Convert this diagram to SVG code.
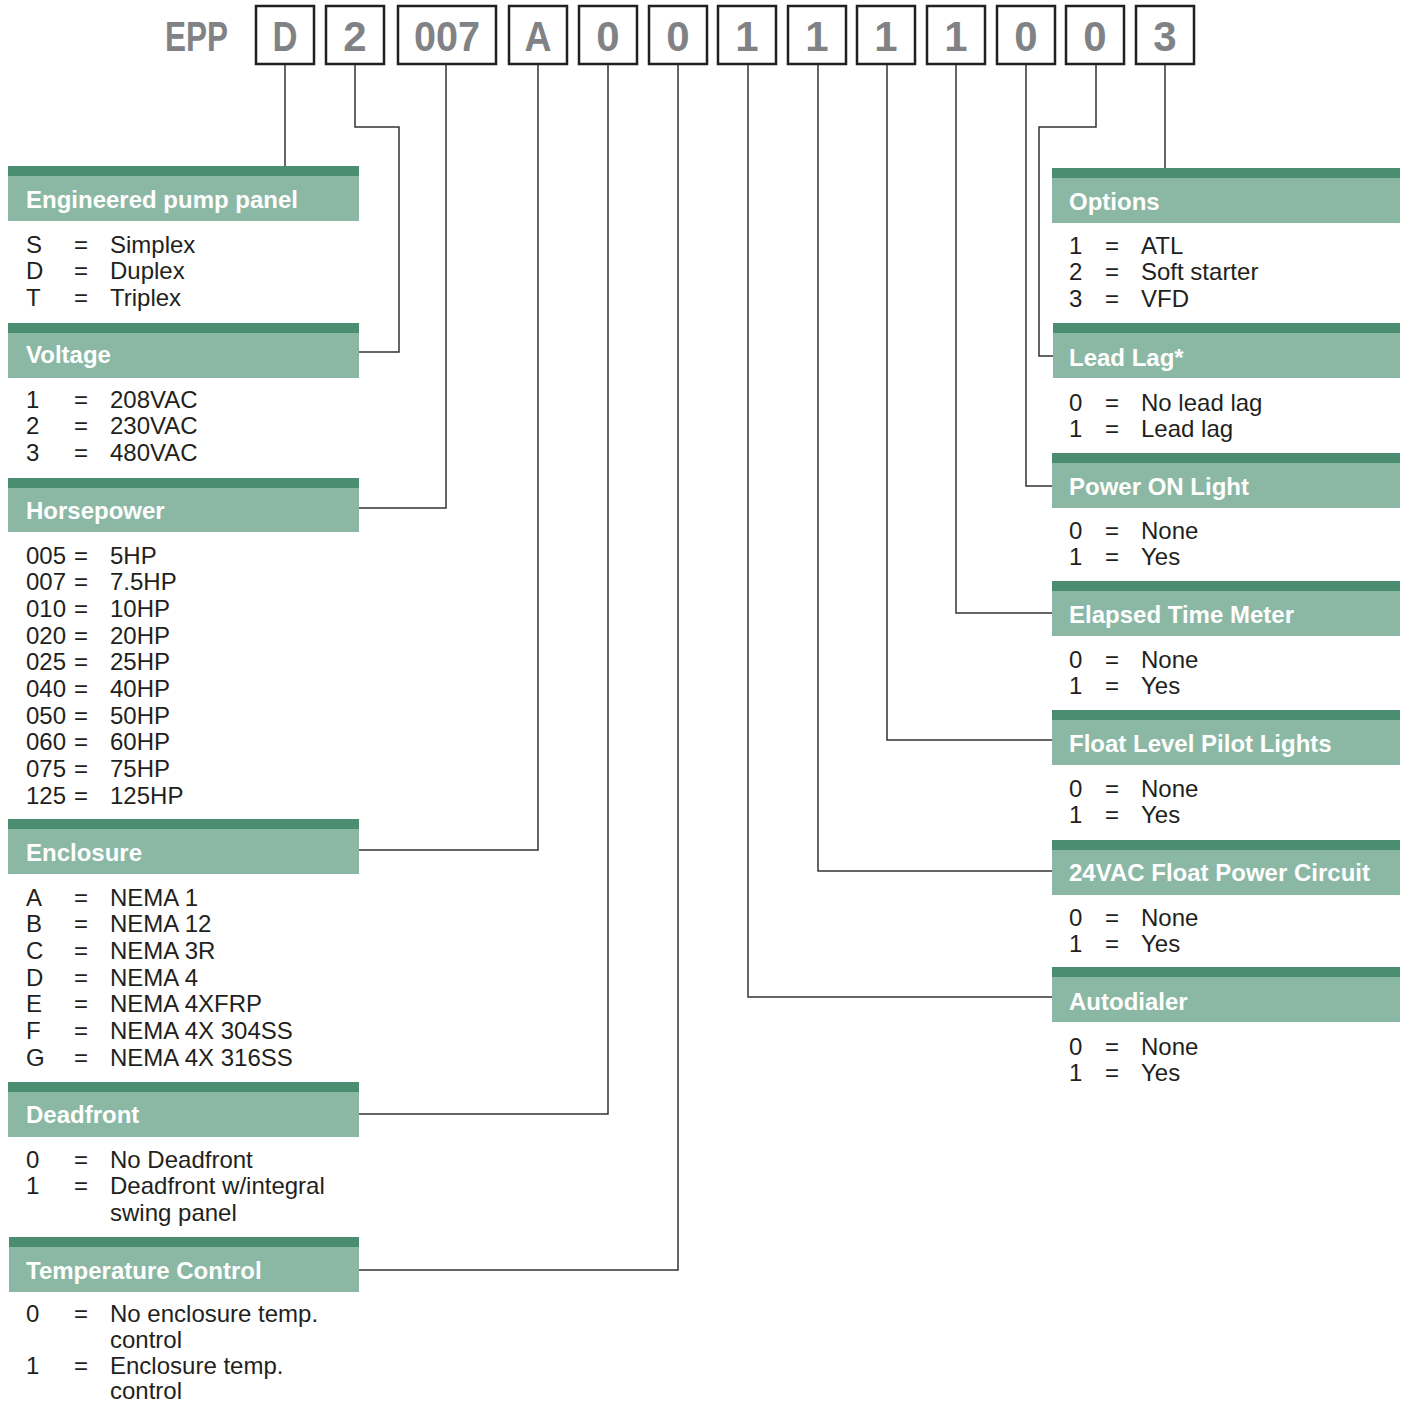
<svg xmlns="http://www.w3.org/2000/svg" width="1405" height="1404" viewBox="0 0 1405 1404">
<style>
.bg{fill:#ffffff}
.box{fill:#ffffff;stroke:#231f20;stroke-width:2.5}
.code{font-family:"Liberation Sans",Arial,sans-serif;font-weight:bold;font-size:42px;fill:#808285;text-anchor:middle}
.epp{font-family:"Liberation Sans",Arial,sans-serif;font-weight:bold;font-size:42px;fill:#808285}
.strip{fill:#4b8d70}
.head{fill:#8bb8a4}
.ht{font-family:"Liberation Sans",Arial,sans-serif;font-weight:bold;font-size:24px;fill:#ffffff}
.t{font-family:"Liberation Sans",Arial,sans-serif;font-size:24px;fill:#231f20}
.con{fill:none;stroke:#333333;stroke-width:1.5}
</style>
<rect class="bg" x="0" y="0" width="1405" height="1404"/>

<g id="code">
<text class="epp" x="165" y="51" textLength="63" lengthAdjust="spacingAndGlyphs">EPP</text>
<rect class="box" x="256" y="6" width="58" height="58"/><text class="code" x="285" y="51" textLength="25" lengthAdjust="spacingAndGlyphs">D</text>
<rect class="box" x="326" y="6" width="58" height="58"/><text class="code" x="355" y="51">2</text>
<rect class="box" x="398" y="6" width="98" height="58"/><text class="code" x="447" y="51" textLength="66" lengthAdjust="spacingAndGlyphs">007</text>
<rect class="box" x="509" y="6" width="58" height="58"/><text class="code" x="538" y="51" textLength="27" lengthAdjust="spacingAndGlyphs">A</text>
<rect class="box" x="579" y="6" width="58" height="58"/><text class="code" x="608" y="51">0</text>
<rect class="box" x="649" y="6" width="58" height="58"/><text class="code" x="678" y="51">0</text>
<rect class="box" x="718" y="6" width="58" height="58"/><text class="code" x="747" y="51">1</text>
<rect class="box" x="788" y="6" width="58" height="58"/><text class="code" x="817" y="51">1</text>
<rect class="box" x="857" y="6" width="58" height="58"/><text class="code" x="886" y="51">1</text>
<rect class="box" x="927" y="6" width="58" height="58"/><text class="code" x="956" y="51">1</text>
<rect class="box" x="997" y="6" width="58" height="58"/><text class="code" x="1026" y="51">0</text>
<rect class="box" x="1066" y="6" width="58" height="58"/><text class="code" x="1095" y="51">0</text>
<rect class="box" x="1136" y="6" width="58" height="58"/><text class="code" x="1165" y="51">3</text>
</g>

<g id="connectors">
<polyline class="con" points="285,65 285,166"/>
<polyline class="con" points="355,65 355,127 399,127 399,352 359,352"/>
<polyline class="con" points="446,65 446,508 359,508"/>
<polyline class="con" points="538,65 538,850 359,850"/>
<polyline class="con" points="608,65 608,1114 359,1114"/>
<polyline class="con" points="678,65 678,1270 359,1270"/>
<polyline class="con" points="748,65 748,997 1052,997"/>
<polyline class="con" points="818,65 818,871 1052,871"/>
<polyline class="con" points="887,65 887,740 1052,740"/>
<polyline class="con" points="956,65 956,613 1052,613"/>
<polyline class="con" points="1026,65 1026,486 1052,486"/>
<polyline class="con" points="1096,65 1096,127 1039,127 1039,356 1053,356"/>
<polyline class="con" points="1165,65 1165,168"/>
</g>

<g id="engineered-pump-panel">
<rect class="strip" x="8" y="166" width="351" height="10"/><rect class="head" x="8" y="176" width="351" height="45"/>
<text class="ht" x="26" y="207.5">Engineered pump panel</text>
<text class="t" y="252.5"><tspan x="26">S</tspan><tspan x="74">=</tspan><tspan x="110">Simplex</tspan></text>
<text class="t" y="279.2"><tspan x="26">D</tspan><tspan x="74">=</tspan><tspan x="110">Duplex</tspan></text>
<text class="t" y="305.9"><tspan x="26">T</tspan><tspan x="74">=</tspan><tspan x="110">Triplex</tspan></text>
</g>

<g id="voltage">
<rect class="strip" x="8" y="323" width="351" height="10"/><rect class="head" x="8" y="333" width="351" height="45"/>
<text class="ht" x="26" y="362.5">Voltage</text>
<text class="t" y="407.5"><tspan x="26">1</tspan><tspan x="74">=</tspan><tspan x="110">208VAC</tspan></text>
<text class="t" y="434.2"><tspan x="26">2</tspan><tspan x="74">=</tspan><tspan x="110">230VAC</tspan></text>
<text class="t" y="460.9"><tspan x="26">3</tspan><tspan x="74">=</tspan><tspan x="110">480VAC</tspan></text>
</g>

<g id="horsepower">
<rect class="strip" x="8" y="478" width="351" height="10"/><rect class="head" x="8" y="488" width="351" height="44"/>
<text class="ht" x="26" y="518.5">Horsepower</text>
<text class="t" y="563.5"><tspan x="26">005</tspan><tspan x="74">=</tspan><tspan x="110">5HP</tspan></text>
<text class="t" y="590.2"><tspan x="26">007</tspan><tspan x="74">=</tspan><tspan x="110">7.5HP</tspan></text>
<text class="t" y="616.9"><tspan x="26">010</tspan><tspan x="74">=</tspan><tspan x="110">10HP</tspan></text>
<text class="t" y="643.6"><tspan x="26">020</tspan><tspan x="74">=</tspan><tspan x="110">20HP</tspan></text>
<text class="t" y="670.3"><tspan x="26">025</tspan><tspan x="74">=</tspan><tspan x="110">25HP</tspan></text>
<text class="t" y="697"><tspan x="26">040</tspan><tspan x="74">=</tspan><tspan x="110">40HP</tspan></text>
<text class="t" y="723.7"><tspan x="26">050</tspan><tspan x="74">=</tspan><tspan x="110">50HP</tspan></text>
<text class="t" y="750.4"><tspan x="26">060</tspan><tspan x="74">=</tspan><tspan x="110">60HP</tspan></text>
<text class="t" y="777.1"><tspan x="26">075</tspan><tspan x="74">=</tspan><tspan x="110">75HP</tspan></text>
<text class="t" y="803.8"><tspan x="26">125</tspan><tspan x="74">=</tspan><tspan x="110">125HP</tspan></text>
</g>

<g id="enclosure">
<rect class="strip" x="8" y="819" width="351" height="10"/><rect class="head" x="8" y="829" width="351" height="45"/>
<text class="ht" x="26" y="860.5">Enclosure</text>
<text class="t" y="905.5"><tspan x="26">A</tspan><tspan x="74">=</tspan><tspan x="110">NEMA 1</tspan></text>
<text class="t" y="932.2"><tspan x="26">B</tspan><tspan x="74">=</tspan><tspan x="110">NEMA 12</tspan></text>
<text class="t" y="958.9"><tspan x="26">C</tspan><tspan x="74">=</tspan><tspan x="110">NEMA 3R</tspan></text>
<text class="t" y="985.6"><tspan x="26">D</tspan><tspan x="74">=</tspan><tspan x="110">NEMA 4</tspan></text>
<text class="t" y="1012.3"><tspan x="26">E</tspan><tspan x="74">=</tspan><tspan x="110">NEMA 4XFRP</tspan></text>
<text class="t" y="1039"><tspan x="26">F</tspan><tspan x="74">=</tspan><tspan x="110">NEMA 4X 304SS</tspan></text>
<text class="t" y="1065.7"><tspan x="26">G</tspan><tspan x="74">=</tspan><tspan x="110">NEMA 4X 316SS</tspan></text>
</g>

<g id="deadfront">
<rect class="strip" x="8" y="1082" width="351" height="10"/><rect class="head" x="8" y="1092" width="351" height="45"/>
<text class="ht" x="26" y="1122.5">Deadfront</text>
<text class="t" y="1167.5"><tspan x="26">0</tspan><tspan x="74">=</tspan><tspan x="110">No Deadfront</tspan></text>
<text class="t" y="1194.2"><tspan x="26">1</tspan><tspan x="74">=</tspan><tspan x="110">Deadfront w/integral</tspan></text>
<text class="t" y="1220.9"><tspan x="110">swing panel</tspan></text>
</g>

<g id="temperature-control">
<rect class="strip" x="9" y="1237" width="350" height="10"/><rect class="head" x="9" y="1247" width="350" height="45"/>
<text class="ht" x="26" y="1278.5">Temperature Control</text>
<text class="t" y="1322"><tspan x="26">0</tspan><tspan x="74">=</tspan><tspan x="110">No enclosure temp.</tspan></text>
<text class="t" y="1348"><tspan x="110">control</tspan></text>
<text class="t" y="1374"><tspan x="26">1</tspan><tspan x="74">=</tspan><tspan x="110">Enclosure temp.</tspan></text>
<text class="t" y="1399"><tspan x="110">control</tspan></text>
</g>

<g id="options">
<rect class="strip" x="1052" y="168" width="348" height="10"/><rect class="head" x="1052" y="178" width="348" height="45"/>
<text class="ht" x="1069" y="209.5">Options</text>
<text class="t" y="253.5"><tspan x="1069">1</tspan><tspan x="1105">=</tspan><tspan x="1141">ATL</tspan></text>
<text class="t" y="280.2"><tspan x="1069">2</tspan><tspan x="1105">=</tspan><tspan x="1141">Soft starter</tspan></text>
<text class="t" y="306.9"><tspan x="1069">3</tspan><tspan x="1105">=</tspan><tspan x="1141">VFD</tspan></text>
</g>

<g id="lead-lag">
<rect class="strip" x="1053" y="323" width="347" height="10"/><rect class="head" x="1053" y="333" width="347" height="45"/>
<text class="ht" x="1069" y="365.5">Lead Lag*</text>
<text class="t" y="410.5"><tspan x="1069">0</tspan><tspan x="1105">=</tspan><tspan x="1141">No lead lag</tspan></text>
<text class="t" y="437.2"><tspan x="1069">1</tspan><tspan x="1105">=</tspan><tspan x="1141">Lead lag</tspan></text>
</g>

<g id="power-on-light">
<rect class="strip" x="1052" y="453" width="348" height="10"/><rect class="head" x="1052" y="463" width="348" height="45"/>
<text class="ht" x="1069" y="494.5">Power ON Light</text>
<text class="t" y="538.5"><tspan x="1069">0</tspan><tspan x="1105">=</tspan><tspan x="1141">None</tspan></text>
<text class="t" y="565.2"><tspan x="1069">1</tspan><tspan x="1105">=</tspan><tspan x="1141">Yes</tspan></text>
</g>

<g id="elapsed-time-meter">
<rect class="strip" x="1052" y="581" width="348" height="10"/><rect class="head" x="1052" y="591" width="348" height="45"/>
<text class="ht" x="1069" y="622.5">Elapsed Time Meter</text>
<text class="t" y="667.5"><tspan x="1069">0</tspan><tspan x="1105">=</tspan><tspan x="1141">None</tspan></text>
<text class="t" y="694.2"><tspan x="1069">1</tspan><tspan x="1105">=</tspan><tspan x="1141">Yes</tspan></text>
</g>

<g id="float-level-pilot-lights">
<rect class="strip" x="1052" y="710" width="348" height="10"/><rect class="head" x="1052" y="720" width="348" height="45"/>
<text class="ht" x="1069" y="751.5">Float Level Pilot Lights</text>
<text class="t" y="796.5"><tspan x="1069">0</tspan><tspan x="1105">=</tspan><tspan x="1141">None</tspan></text>
<text class="t" y="823.2"><tspan x="1069">1</tspan><tspan x="1105">=</tspan><tspan x="1141">Yes</tspan></text>
</g>

<g id="float-power-circuit">
<rect class="strip" x="1052" y="840" width="348" height="10"/><rect class="head" x="1052" y="850" width="348" height="45"/>
<text class="ht" x="1069" y="880.5">24VAC Float Power Circuit</text>
<text class="t" y="925.5"><tspan x="1069">0</tspan><tspan x="1105">=</tspan><tspan x="1141">None</tspan></text>
<text class="t" y="952.2"><tspan x="1069">1</tspan><tspan x="1105">=</tspan><tspan x="1141">Yes</tspan></text>
</g>

<g id="autodialer">
<rect class="strip" x="1052" y="967" width="348" height="10"/><rect class="head" x="1052" y="977" width="348" height="45"/>
<text class="ht" x="1069" y="1009.5">Autodialer</text>
<text class="t" y="1054.5"><tspan x="1069">0</tspan><tspan x="1105">=</tspan><tspan x="1141">None</tspan></text>
<text class="t" y="1081.2"><tspan x="1069">1</tspan><tspan x="1105">=</tspan><tspan x="1141">Yes</tspan></text>
</g>
</svg>
